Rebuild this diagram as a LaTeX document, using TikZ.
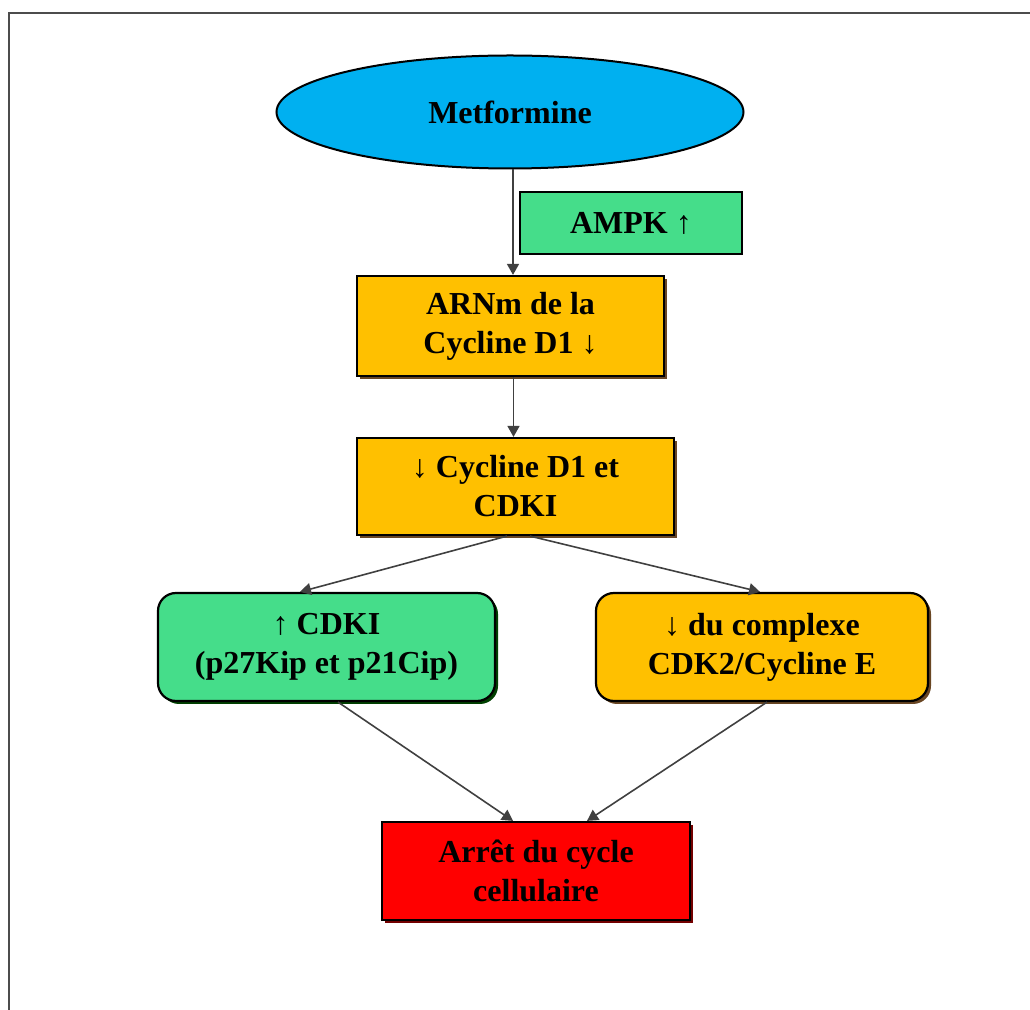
\documentclass[tikz,border=0pt]{standalone}
\usepackage{fontspec}
\setmainfont{Liberation Serif}
\usepackage{tikz}
\usetikzlibrary{shapes.geometric}
\usetikzlibrary{shadows}
\usetikzlibrary{arrows.meta}
\usepackage{xcolor}

\definecolor{metblue}{HTML}{00B0F0}
\definecolor{boxgreen}{HTML}{45DD8A}
\definecolor{boxorange}{HTML}{FFC000}
\definecolor{boxred}{HTML}{FF0000}

\tikzset{
  txt/.style={font=\fontsize{16}{19.5}\selectfont\bfseries, align=center, inner sep=0pt},
  metnode/.style={txt, ellipse, draw=black, line width=1pt, fill=metblue},
  ampkbox/.style={txt, rectangle, draw=black, line width=1.1pt, fill=boxgreen},
  stepbox/.style={txt, rectangle, draw=black, line width=1.1pt, fill=boxorange,
    drop shadow={shadow xshift=1.5pt, shadow yshift=-1.5pt, fill=brown!55!black, opacity=1}},
  roundgreen/.style={txt, rectangle, rounded corners=9pt, draw=black, line width=1.1pt, fill=boxgreen,
    drop shadow={shadow xshift=1.5pt, shadow yshift=-1.5pt, fill=green!25!black, opacity=1}},
  roundorange/.style={txt, rectangle, rounded corners=9pt, draw=black, line width=1.1pt, fill=boxorange,
    drop shadow={shadow xshift=1.5pt, shadow yshift=-1.5pt, fill=brown!55!black, opacity=1}},
  redbox/.style={txt, rectangle, draw=black, line width=1.1pt, fill=boxred,
    drop shadow={shadow xshift=1.5pt, shadow yshift=-1.5pt, fill=red!45!black, opacity=1}},
  link/.style={draw=black!75, line width=0.8pt, -{Triangle[length=5.5pt, width=6pt]}}
}

\begin{document}
\begin{tikzpicture}[x=0.5pt, y=-0.5pt]
\useasboundingbox (0,0) rectangle (1030,1010);

% frame
\draw [black!70, line width=1pt] (9,1010) -- (9,13) -- (1030,13);

% boxes
\node (met) at (510,112) [metnode, minimum width=233.5pt, minimum height=56.5pt]{Metformine};
\node (ampk) at (631,223) [ampkbox, minimum width=111pt, minimum height=31pt]{AMPK ↑};
\node (arnm) at (510.5,326) [stepbox, minimum width=153.5pt, minimum height=50pt]{ARNm de la\\Cycline D1 ↓};
\node (cyc) at (515.5,486.5) [stepbox, minimum width=158.5pt, minimum height=48.5pt]{↓ Cycline D1 et\\CDKI};
\node (cdki) at (326.5,647) [roundgreen, minimum width=168.5pt, minimum height=54pt]{↑ CDKI\\(p27Kip et p21Cip)};
\node (cplx) at (762,647) [roundorange, minimum width=166pt, minimum height=54pt]{↓ du complexe\\CDK2/Cycline E};
\node (arret) at (536,871) [redbox, minimum width=154pt, minimum height=49pt]{Arrêt du cycle\\cellulaire};

% arrows
\draw [link] ([xshift=1.5pt]met.south) -- ([xshift=1.5pt]met.south |- arnm.north);
\draw [link] ([xshift=1.5pt]arnm.south) -- ([xshift=1.5pt]arnm.south |- cyc.north);
\draw [link] ([xshift=-4.25pt]cyc.south) -- ([xshift=-13.25pt]cdki.north);
\draw [link] ([xshift=7.25pt]cyc.south) -- ([xshift=-1pt]cplx.north);
\draw [link] ([xshift=5.75pt]cdki.south) -- ([xshift=-11.5pt]arret.north);
\draw [link] ([xshift=2.5pt]cplx.south) -- ([xshift=25.5pt]arret.north);

\end{tikzpicture}
\end{document}
